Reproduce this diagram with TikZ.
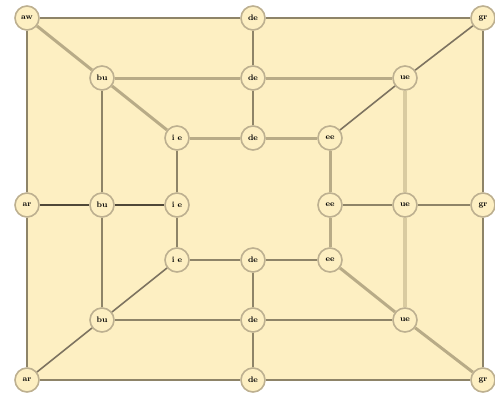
\documentclass[tikz,border=0pt]{standalone}
\definecolor{bg}{HTML}{FDEFC2}
\definecolor{nbord}{HTML}{BDB090}
\definecolor{ck}{HTML}{4F4838}
\definecolor{cd}{HTML}{7D7360}
\definecolor{cm}{HTML}{8E8468}
\definecolor{cl}{HTML}{B8AB87}
\definecolor{cv}{HTML}{D9CBA0}
\begin{document}
\begin{tikzpicture}[x=1pt,y=-1pt,
  vtx/.style={circle,draw=nbord,line width=1.6pt,fill=bg,minimum size=24pt,inner sep=0pt,font=\fontsize{8}{8}\selectfont\bfseries},
  edb/.style={draw=ck,line width=2.2pt},
  edd/.style={draw=cd,line width=1.6pt},
  edm/.style={draw=cm,line width=2.4pt},
  edl/.style={draw=cl,line width=3pt},
  edv/.style={draw=cv,line width=3.5pt}]
\useasboundingbox (0,0) rectangle (495,394);
\fill[bg] (27,18) rectangle (483,380);
% nodes
\node[vtx] (a1) at (27,18) {aw};
\node[vtx] (a2) at (253,18) {de};
\node[vtx] (a3) at (483,18) {gr};
\node[vtx] (a4) at (27,205) {ar};
\node[vtx] (a5) at (483,205) {gr};
\node[vtx] (a6) at (27,380) {ar};
\node[vtx] (a7) at (253,380) {de};
\node[vtx] (a8) at (483,380) {gr};
\node[vtx] (b1) at (102,78) {bu};
\node[vtx] (b2) at (253,78) {de};
\node[vtx] (b3) at (405,78) {ue};
\node[vtx] (b4) at (102,205) {bu};
\node[vtx] (b5) at (405,205) {ue};
\node[vtx] (b6) at (102,320) {bu};
\node[vtx] (b7) at (253,320) {de};
\node[vtx] (b8) at (405,320) {ue};
\node[vtx] (c1) at (177,138) {i e};
\node[vtx] (c2) at (253,138) {de};
\node[vtx] (c3) at (330,138) {ee};
\node[vtx] (c4) at (177,205) {i e};
\node[vtx] (c5) at (330,205) {ee};
\node[vtx] (c6) at (177,260) {i e};
\node[vtx] (c7) at (253,260) {de};
\node[vtx] (c8) at (330,260) {ee};
% outer ring
\draw[edm] (a1) -- (a2);
\draw[edm] (a2) -- (a3);
\draw[edm] (a3) -- (a5);
\draw[edm] (a5) -- (a8);
\draw[edm] (a8) -- (a7);
\draw[edm] (a7) -- (a6);
\draw[edm] (a6) -- (a4);
\draw[edm] (a4) -- (a1);
% spokes
\draw[edl] (a1) -- (b1);
\draw[edl] (b1) -- (c1);
\draw[edd] (a3) -- (b3);
\draw[edd] (b3) -- (c3);
\draw[edd] (a6) -- (b6);
\draw[edd] (b6) -- (c6);
\draw[edl] (a8) -- (b8);
\draw[edl] (b8) -- (c8);
\draw[edm] (a2) -- (b2);
\draw[edm] (b2) -- (c2);
\draw[edm] (a7) -- (b7);
\draw[edm] (b7) -- (c7);
\draw[edb] (a4) -- (b4);
\draw[edb] (b4) -- (c4);
\draw[edm] (a5) -- (b5);
\draw[edm] (b5) -- (c5);
% middle ring
\draw[edl] (b1) -- (b2);
\draw[edl] (b2) -- (b3);
\draw[edv] (b3) -- (b5);
\draw[edv] (b5) -- (b8);
\draw[edm] (b8) -- (b7);
\draw[edm] (b7) -- (b6);
\draw[edm] (b6) -- (b4);
\draw[edm] (b4) -- (b1);
% inner ring
\draw[edl] (c1) -- (c2);
\draw[edl] (c2) -- (c3);
\draw[edl] (c3) -- (c5);
\draw[edl] (c5) -- (c8);
\draw[edm] (c8) -- (c7);
\draw[edm] (c7) -- (c6);
\draw[edm] (c6) -- (c4);
\draw[edm] (c4) -- (c1);
\end{tikzpicture}
\end{document}
